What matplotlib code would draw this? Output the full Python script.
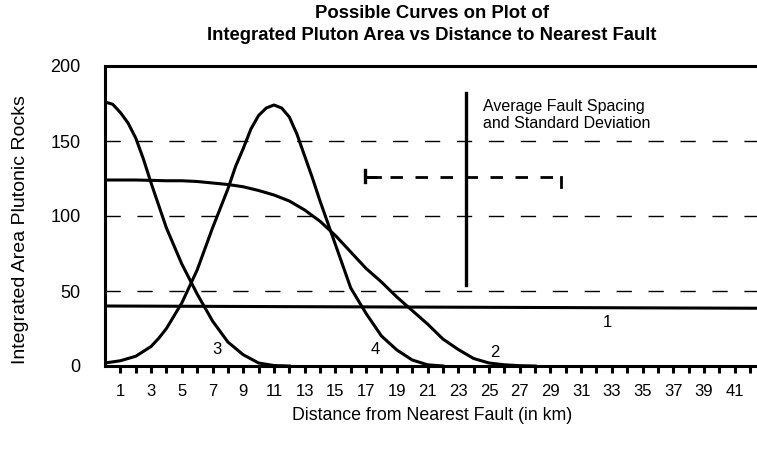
"""Possible curves on a plot of integrated pluton area vs distance to nearest fault."""
import matplotlib
matplotlib.use("Agg")
import matplotlib.pyplot as plt
from matplotlib.ticker import FixedLocator, NullFormatter

# Values (distance in km, area)
curve1_km = [0, 42.5]
curve1_area = [40, 38.5]

curve2_km = [0, 2, 4, 5, 6, 7, 8, 9, 10, 11, 12, 13, 14, 15, 16, 17, 18, 19,
             20, 21, 22, 23, 24, 25, 26, 27, 28]
curve2_area = [124, 124, 123.5, 123.5, 123, 122, 121, 119.5, 117, 114, 110, 104,
               96.5, 87, 76, 65, 56, 46, 37, 28, 18, 11, 5, 2, 0.8, 0.2, 0]

curve3_km = [0, 0.5, 1, 1.5, 2, 2.5, 3, 3.5, 4, 5, 6, 7, 8, 9, 10, 11, 12]
curve3_area = [176, 174.5, 169, 162, 152, 138, 122, 107, 92, 68, 48, 30, 16, 7.5,
               2, 0.3, 0]

curve4_km = [0, 1, 2, 3, 3.5, 4, 5, 6, 7, 8, 8.5, 9, 9.5, 10, 10.5, 11, 11.5, 12,
             12.5, 13, 13.5, 14, 15, 16, 17, 18, 19, 20, 21, 22]
curve4_area = [2, 3.5, 6.5, 13, 18.5, 25, 42, 64, 92, 118, 133, 145, 158, 167,
               172, 174, 172, 166, 154.5, 140, 125.5, 110, 81, 52, 35, 20, 10.7,
               4, 0.8, 0]

grid_levels = [50, 100, 150]
y_ticks = [0, 50, 100, 150, 200]
x_label_ticks = list(range(1, 42, 2))
x_all_ticks = list(range(1, 43))

# Average fault spacing marker and its standard deviation bar
spacing_km = 23.5
spacing_area = [54, 182]
std_km = [16.9, 29.7]
std_area = 126
std_left_cap = [123, 131]
std_right_cap = [119.5, 126]

curve_labels = ["1", "2", "3", "4"]
curve_label_pos = [(32.7, 29), (25.4, 9.3), (7.3, 10.7), (17.6, 10.7)]

FONT = ["Liberation Sans", "DejaVu Sans"]


def make_chart(output_path):
    plt.rcParams["font.family"] = FONT
    fig = plt.figure(figsize=(7.57, 4.49), dpi=100)
    ax = fig.add_axes([105 / 757, 83 / 449, 1 - 105 / 757, 300 / 449])

    # dashed reference lines
    for lvl in grid_levels:
        ax.plot([0, 42.5], [lvl, lvl], color="black", linewidth=1.0,
                dashes=(11, 12), zorder=1)

    style = dict(color="black", linewidth=2.2, zorder=3, solid_joinstyle="round")
    ax.plot(curve1_km, curve1_area, **style)
    ax.plot(curve2_km, curve2_area, **style)
    ax.plot(curve3_km, curve3_area, **style)
    ax.plot(curve4_km, curve4_area, **style)

    for lbl, (x, y) in zip(curve_labels, curve_label_pos):
        ax.text(x, y, lbl, fontsize=12, ha="center", va="center")

    # fault spacing bar
    ax.plot([spacing_km, spacing_km], spacing_area, color="black", linewidth=2.4, zorder=3)
    ax.plot(std_km, [std_area, std_area], color="black", linewidth=2.0,
            dashes=(4.5, 4.5), zorder=3)
    ax.plot([std_km[0], std_km[0] + 1.0], [std_area, std_area], color="black",
            linewidth=2.0, zorder=3)
    ax.plot([std_km[0], std_km[0]], std_left_cap, color="black", linewidth=2.4, zorder=3)
    ax.plot([std_km[1], std_km[1]], std_right_cap, color="black", linewidth=2.0, zorder=3)
    ax.text(24.6, 178, "Average Fault Spacing\nand Standard Deviation", fontsize=11.5,
            ha="left", va="top", linespacing=1.15)

    ax.set_xlim(0, 42.45)
    ax.set_ylim(0, 200)
    for side in ["left", "bottom", "top"]:
        ax.spines[side].set_linewidth(2.2)
    ax.spines["right"].set_visible(False)

    ax.xaxis.set_major_locator(FixedLocator(x_label_ticks))
    ax.xaxis.set_minor_locator(FixedLocator([t for t in x_all_ticks if t % 2 == 0]))
    ax.xaxis.set_minor_formatter(NullFormatter())
    ax.tick_params(axis="x", which="both", direction="out", length=5, width=2.2,
                   labelsize=12, pad=8)
    ax.set_yticks(y_ticks)
    ax.tick_params(axis="y", length=0, labelsize=13, pad=17.5)

    fig.text(432 / 757, 1 - 13 / 449, "Possible Curves on Plot of", fontsize=13.3,
             fontweight="bold", ha="center", va="center")
    fig.text(432 / 757, 1 - 35 / 449, "Integrated Pluton Area vs Distance to Nearest Fault",
             fontsize=13.3, fontweight="bold", ha="center", va="center")
    fig.text(432 / 757, 1 - 416 / 449, "Distance from Nearest Fault (in km)", fontsize=12.8,
             ha="center", va="center")
    fig.text(21 / 757, 1 - 230 / 449, "Integrated Area Plutonic Rocks", fontsize=14,
             rotation=90, ha="center", va="center")

    fig.savefig(output_path, dpi=100)


def main():
    make_chart("out.png")


if __name__ == "__main__":
    main()
